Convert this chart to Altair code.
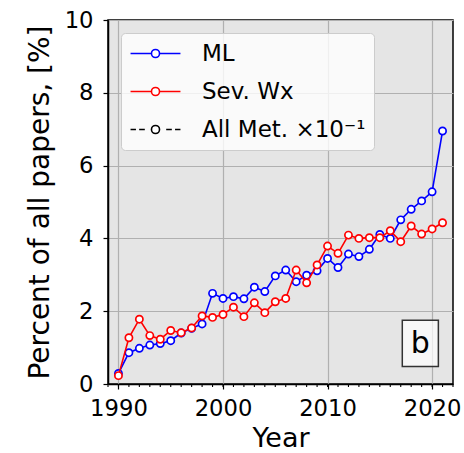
import altair as alt
import pandas as pd

# ---- data ----
years = list(range(1990, 2022))
ml_pct = [0.29, 0.86, 0.98, 1.07, 1.11, 1.19, 1.40, 1.53, 1.65, 2.49,
          2.35, 2.40, 2.34, 2.66, 2.54, 2.97, 3.13, 2.81, 2.99, 3.11,
          3.45, 3.20, 3.57, 3.50, 3.70, 4.11, 4.00, 4.51, 4.80, 5.03,
          5.28, 6.95]
sev_pct = [0.23, 1.27, 1.78, 1.33, 1.23, 1.47, 1.41, 1.54, 1.87, 1.83,
           1.91, 2.11, 1.85, 2.23, 1.96, 2.26, 2.35, 3.13, 2.78, 3.27,
           3.79, 3.59, 4.09, 4.00, 4.02, 4.02, 4.21, 3.91, 4.34, 4.12,
           4.26, 4.43]
series_names = ["ML", "Sev. Wx", "All Met. ×10⁻¹"]
series_colors = ["#0000ff", "#ff0000", "#000000"]
major_years = [1990, 2000, 2010, 2020]
minor_years = list(range(1989, 2023))
y_ticks = [0, 2, 4, 6, 8, 10]
panel_label = ["b"]

df = pd.DataFrame({
    "Year": years * 2,
    "Percent": ml_pct + sev_pct,
    "Series": ["ML"] * len(years) + ["Sev. Wx"] * len(years),
})

FONT = "DejaVu Sans"

# legend symbols: line with open circle (solid) / dashed line with open circle
circle = "M-0.35,0A0.35,0.35 0 1,0 0.35,0A0.35,0.35 0 1,0 -0.35,0Z"
solid = "M-2.17,0L-0.35,0M0.35,0L2.17,0" + circle
dashed = ("M-2.17,0L-1.70,0M-1.42,0L-0.93,0M0.93,0L1.42,0M1.70,0L2.17,0"
          + circle)
shape_expr = f"(datum.value === 'ML' || datum.value === 'Sev. Wx') ? '{solid}' : '{dashed}'"

legend = alt.Legend(
    title=None, orient="top-left", offset=13, padding=8,
    fillColor="rgba(255,255,255,0.8)", strokeColor="#cccccc", cornerRadius=4,
    labelFont=FONT, labelFontSize=23, labelColor="black", labelLimit=400,
    labelExpr="datum.label + '\u00a0\u00a0'",
    symbolSize=529, symbolStrokeWidth=1.6, symbolType={"expr": shape_expr},
    symbolOffset=14, symbolFillColor="white", labelOffset=34, rowPadding=13,
)

stroke_scale = alt.Scale(domain=series_names, range=series_colors)
x_scale = alt.Scale(domain=[1989, 2022], nice=False, zero=False)

x_enc = alt.X(
    "Year:Q", scale=x_scale,
    axis=alt.Axis(title="Year", values=major_years, format="d", tickSize=5,
                  labelPadding=8, titlePadding=6, labelFlush=False),
)
y_enc = alt.Y(
    "Percent:Q",
    scale=alt.Scale(domain=[0, 10], nice=False),
    axis=alt.Axis(title="Percent of all papers, [%]", values=y_ticks,
                  tickSize=5, labelPadding=10, titlePadding=10),
)

layers = []
for name in ["ML", "Sev. Wx"]:
    base = alt.Chart(df).transform_filter(alt.datum.Series == name)
    line = base.mark_line(strokeWidth=1.6, clip=True).encode(
        x=x_enc, y=y_enc,
        stroke=alt.Stroke("Series:N", scale=stroke_scale, legend=legend),
    )
    pts = base.mark_circle(size=52, fill="white", strokeWidth=1.7, opacity=1, clip=True).encode(
        x=x_enc, y=y_enc,
        stroke=alt.Stroke("Series:N", scale=stroke_scale, legend=legend),
    )
    layers += [line, pts]

# minor ticks on the x axis (one per year)
minor_df = pd.DataFrame({"yr": minor_years})
minor = alt.Chart(minor_df).mark_rule(color="black", strokeWidth=1.1).encode(
    x=alt.X("yr:Q", scale=x_scale),
    y=alt.value(364), y2=alt.value(367),
)
layers.append(minor)

lab_df = pd.DataFrame({"label": panel_label, "x1": [2017.15], "x2": [2020.6],
                       "y1": [0.48], "y2": [1.75], "xc": [2018.87], "yc": [1.1]})
box = alt.Chart(lab_df).mark_rect(fill="white", fillOpacity=0.7, stroke="#333333",
                                  strokeWidth=1.5).encode(
    x="x1:Q", x2="x2:Q", y="y1:Q", y2="y2:Q")
txt = alt.Chart(lab_df).mark_text(font=FONT, fontSize=30, color="black",
                                  baseline="middle", align="center").encode(
    x="xc:Q", y="yc:Q", text="label:N")
layers += [box, txt]

chart = alt.layer(*layers).properties(
    width=345, height=364,
    background="white",
    autosize=alt.AutoSizeParams(type="none"),
    padding={"left": 108, "top": 20, "right": 11, "bottom": 69},
).configure_view(
    fill="#e5e5e5", stroke="black", strokeWidth=1.5,
).configure_axis(
    labelFont=FONT, titleFont=FONT, labelFontSize=22.7,
    labelColor="black", titleColor="black", titleFontWeight="normal",
    domainColor="black", domainWidth=1.5, tickColor="black", tickWidth=1.2,
    gridColor="#b0b0b0", gridWidth=1.2,
).configure_axisX(
    titleFontSize=27,
).configure_axisY(
    titleFontSize=28,
)

chart.save("out.html", embed_options={"renderer": "svg", "actions": False})
